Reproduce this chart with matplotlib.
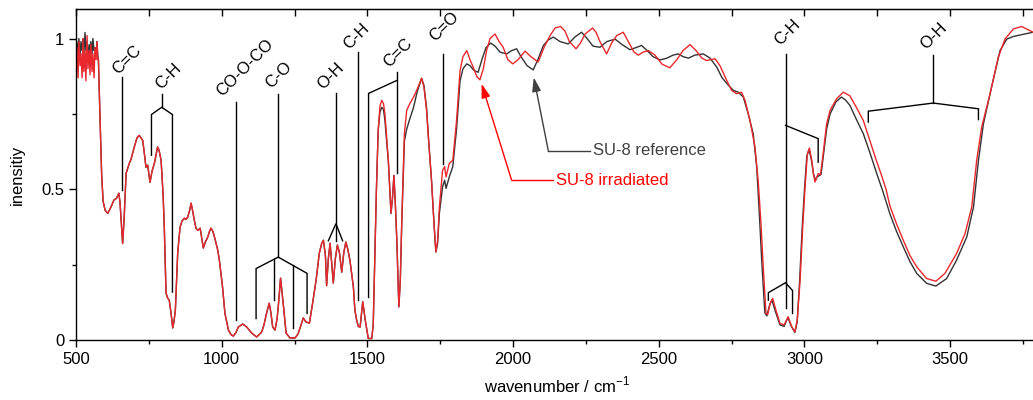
import numpy as np
import matplotlib
matplotlib.use("Agg")
import matplotlib.pyplot as plt
from matplotlib.ticker import MultipleLocator, FuncFormatter

plt.rcParams['font.family'] = ['Liberation Sans', 'DejaVu Sans']
plt.rcParams['font.size'] = 12

# --- SU-8 reference (dark line) ---
ref_wn = [500, 503, 507, 510, 514, 517, 521, 524, 527, 531, 534, 538, 541, 545, 548, 551, 555, 558, 562, 565,
          569, 572, 575, 577, 582, 588, 593, 600, 609, 617, 624, 630, 639, 647, 651, 656, 660, 665, 672, 683,
          689, 700, 709, 717, 729, 737, 740, 746, 754, 761, 769, 780, 785, 792, 799, 803, 809, 814, 820, 826,
          832, 836, 841, 849, 857, 864, 872, 877, 883, 890, 895, 900, 906, 912, 918, 926, 931, 937, 944, 952,
          958, 963, 970, 978, 986, 992, 1003, 1011, 1023, 1032, 1040, 1049, 1057, 1072, 1086, 1103, 1120, 1137, 1145, 1154,
          1163, 1169, 1175, 1183, 1190, 1194, 1202, 1211, 1221, 1234, 1252, 1262, 1269, 1280, 1289, 1301, 1312, 1324, 1335, 1343,
          1349, 1356, 1360, 1366, 1372, 1377, 1383, 1390, 1397, 1404, 1412, 1419, 1426, 1433, 1440, 1452, 1457, 1463, 1469, 1475,
          1480, 1484, 1488, 1492, 1498, 1503, 1515, 1520, 1526, 1531, 1537,
          1543, 1549, 1555, 1560, 1572, 1581, 1586, 1591, 1596, 1601, 1608, 1613, 1618, 1627, 1635, 1646, 1658, 1670, 1686, 1694,
          1703, 1711, 1720, 1729, 1735, 1741, 1747, 1758, 1765, 1770, 1781, 1793, 1806, 1818, 1828, 1841, 1852, 1865, 1880, 1893,
          1907, 1923, 1938, 1955, 1978, 1995, 2012, 2027, 2048, 2069, 2085, 2104, 2120, 2138, 2161, 2178, 2189, 2212, 2235, 2254,
          2274, 2298, 2322, 2350, 2374, 2401, 2422, 2441, 2460, 2480, 2504, 2528, 2549, 2567, 2583, 2602, 2624, 2653, 2676, 2699,
          2717, 2739, 2756, 2773, 2790, 2807, 2824, 2836, 2845, 2854, 2864, 2871, 2880, 2888, 2900, 2916, 2930, 2943, 2955, 2967,
          2975, 2983, 2992, 3000, 3008, 3016, 3024, 3031, 3038, 3043, 3050, 3057, 3064, 3076, 3088, 3108, 3127, 3142, 3156, 3179,
          3202, 3225, 3248, 3270, 3293, 3316, 3339, 3362, 3385, 3419, 3451, 3488, 3522, 3557, 3580, 3597, 3614, 3642, 3671, 3694,
          3717, 3784, 3808]
ref_int = [0.96, 0.99, 0.95, 1.0, 0.94, 0.99, 0.96, 1.0, 0.95, 1.02, 0.96, 0.99, 0.94, 0.98, 0.95, 0.99, 0.95, 1.0, 0.96, 0.97,
           0.95, 0.99, 0.94, 0.93, 0.75, 0.55, 0.46, 0.43, 0.42, 0.435, 0.45, 0.464, 0.47, 0.487, 0.457, 0.38, 0.32, 0.40, 0.553, 0.586,
           0.60, 0.64, 0.67, 0.679, 0.662, 0.60, 0.573, 0.58, 0.523, 0.56, 0.586, 0.64, 0.63, 0.596, 0.48, 0.374, 0.156, 0.14, 0.132, 0.09,
           0.04, 0.06, 0.099, 0.288, 0.374, 0.395, 0.404, 0.40, 0.407, 0.43, 0.454, 0.43, 0.397, 0.37, 0.364, 0.371, 0.34, 0.305, 0.325, 0.341,
           0.36, 0.371, 0.36, 0.331, 0.30, 0.265, 0.175, 0.089, 0.033, 0.018, 0.013, 0.025, 0.043, 0.053, 0.043, 0.023, 0.010, 0.026, 0.05, 0.089,
           0.122, 0.09, 0.043, 0.033, 0.07, 0.109, 0.205, 0.122, 0.023, 0.007, 0.007, 0.02, 0.04, 0.073, 0.06, 0.056, 0.122, 0.199, 0.288, 0.32,
           0.331, 0.28, 0.18, 0.27, 0.321, 0.26, 0.189, 0.27, 0.315, 0.29, 0.225, 0.29, 0.325, 0.30, 0.265, 0.175, 0.10, 0.066, 0.045, 0.043,
           0.09, 0.127, 0.10, 0.07, 0.035, 0.005, 0.005, 0.05, 0.288, 0.5, 0.695,
           0.755, 0.772, 0.765, 0.73, 0.59, 0.42, 0.47, 0.546, 0.45, 0.33, 0.11, 0.2, 0.39, 0.66, 0.70, 0.735, 0.77, 0.82, 0.868, 0.845,
           0.77, 0.65, 0.53, 0.38, 0.292, 0.32, 0.42, 0.508, 0.53, 0.503, 0.541, 0.575, 0.70, 0.86, 0.90, 0.916, 0.91, 0.895, 0.888, 0.93,
           0.97, 0.985, 0.975, 0.955, 0.949, 0.96, 0.966, 0.94, 0.91, 0.896, 0.93, 0.977, 0.995, 1.005, 0.99, 0.985, 0.982, 1.005, 1.021, 1.0,
           0.975, 0.971, 0.99, 0.998, 0.98, 0.963, 0.97, 0.977, 0.96, 0.94, 0.929, 0.935, 0.945, 0.949, 0.94, 0.935, 0.945, 0.949, 0.935, 0.905,
           0.87, 0.845, 0.828, 0.822, 0.806, 0.75, 0.684, 0.574, 0.42, 0.25, 0.09, 0.08, 0.115, 0.133, 0.095, 0.05, 0.045, 0.075, 0.045, 0.025,
           0.06, 0.19, 0.37, 0.50, 0.61, 0.632, 0.595, 0.55, 0.53, 0.541, 0.545, 0.55, 0.605, 0.70, 0.75, 0.79, 0.806, 0.795, 0.778, 0.73,
           0.684, 0.62, 0.552, 0.49, 0.419, 0.36, 0.309, 0.26, 0.221, 0.188, 0.179, 0.204, 0.265, 0.342, 0.441, 0.596, 0.717, 0.839, 0.96, 0.998,
           1.007, 1.021, 1.025]

# --- SU-8 irradiated (red line) ---
irr_wn = [500, 503, 507, 510, 514, 517, 521, 524, 527, 531, 534, 538, 541, 545, 548, 551, 555, 558, 562, 565,
          569, 572, 575, 577, 582, 588, 593, 600, 609, 617, 624, 630, 639, 647, 651, 656, 660, 665, 672, 683,
          689, 700, 709, 717, 729, 737, 740, 746, 754, 761, 769, 780, 785, 792, 799, 803, 809, 814, 820, 826,
          832, 836, 841, 849, 857, 864, 872, 877, 883, 890, 895, 900, 906, 912, 918, 926, 931, 937, 944, 952,
          958, 963, 970, 978, 986, 992, 1003, 1011, 1023, 1032, 1040, 1049, 1057, 1072, 1086, 1103, 1120, 1137, 1145, 1154,
          1163, 1169, 1175, 1183, 1190, 1194, 1202, 1211, 1221, 1234, 1252, 1262, 1269, 1280, 1289, 1301, 1312, 1324, 1335, 1343,
          1349, 1356, 1360, 1366, 1372, 1377, 1383, 1390, 1397, 1404, 1412, 1419, 1426, 1433, 1440, 1452, 1457, 1463, 1469, 1475,
          1480, 1484, 1488, 1492, 1498, 1503, 1515, 1520, 1526, 1531, 1537,
          1543, 1549, 1555, 1560, 1572, 1581, 1586, 1591, 1596, 1601, 1608, 1613, 1618, 1627, 1635, 1646, 1658, 1670, 1686, 1694,
          1703, 1711, 1720, 1729, 1735, 1741, 1747, 1758, 1765, 1770, 1781, 1793, 1806, 1818, 1828, 1841, 1852, 1863, 1875, 1886,
          1898, 1909, 1921, 1938, 1952, 1966, 1982, 1999, 2017, 2041, 2061, 2086, 2106, 2127, 2144, 2163, 2178, 2193, 2216, 2231,
          2247, 2273, 2285, 2298, 2321, 2338, 2356, 2378, 2401, 2415, 2430, 2446, 2465, 2487, 2511, 2538, 2562, 2583, 2607, 2628,
          2648, 2664, 2679, 2693, 2710, 2733, 2750, 2767, 2784, 2796, 2813, 2830, 2841, 2850, 2859, 2868, 2874, 2882, 2891, 2902,
          2916, 2930, 2944, 2956, 2967, 2975, 2985, 2994, 3002, 3010, 3017, 3025, 3031, 3036, 3047, 3055, 3064, 3076, 3088, 3110,
          3133, 3156, 3179, 3202, 3225, 3245, 3263, 3280, 3293, 3316, 3339, 3362, 3385, 3419, 3451, 3482, 3522, 3551, 3574, 3591,
          3608, 3637, 3665, 3688, 3717, 3745, 3784, 3808]
irr_int = [0.90, 0.97, 0.87, 0.99, 0.91, 0.95, 0.87, 1.0, 0.89, 0.96, 0.86, 1.01, 0.90, 0.96, 0.88, 0.98, 0.89, 0.95, 0.87, 0.97,
           0.93, 0.99, 0.93, 0.93, 0.75, 0.55, 0.46, 0.43, 0.42, 0.435, 0.45, 0.464, 0.47, 0.487, 0.457, 0.38, 0.32, 0.40, 0.553, 0.586,
           0.60, 0.64, 0.67, 0.679, 0.662, 0.60, 0.573, 0.58, 0.523, 0.56, 0.586, 0.64, 0.63, 0.596, 0.48, 0.374, 0.156, 0.14, 0.132, 0.09,
           0.04, 0.06, 0.099, 0.288, 0.374, 0.395, 0.404, 0.40, 0.407, 0.43, 0.454, 0.43, 0.397, 0.37, 0.364, 0.371, 0.34, 0.305, 0.325, 0.341,
           0.36, 0.371, 0.36, 0.331, 0.30, 0.265, 0.175, 0.089, 0.033, 0.018, 0.013, 0.025, 0.043, 0.053, 0.043, 0.023, 0.010, 0.026, 0.05, 0.089,
           0.122, 0.09, 0.043, 0.033, 0.07, 0.109, 0.205, 0.122, 0.023, 0.007, 0.007, 0.02, 0.04, 0.073, 0.06, 0.056, 0.122, 0.199, 0.288, 0.32,
           0.331, 0.28, 0.18, 0.27, 0.321, 0.26, 0.189, 0.27, 0.315, 0.29, 0.225, 0.29, 0.325, 0.30, 0.265, 0.175, 0.10, 0.066, 0.045, 0.043,
           0.09, 0.127, 0.10, 0.07, 0.035, 0.005, 0.005, 0.05, 0.288, 0.5, 0.695,
           0.775, 0.795, 0.785, 0.752, 0.596, 0.42, 0.47, 0.546, 0.45, 0.33, 0.11, 0.2, 0.397, 0.685, 0.762, 0.785, 0.805, 0.83, 0.868, 0.84,
           0.762, 0.65, 0.53, 0.38, 0.292, 0.33, 0.44, 0.563, 0.575, 0.541, 0.586, 0.596, 0.728, 0.894, 0.94, 0.96, 0.93, 0.905, 0.875, 0.863,
           0.90, 0.96, 1.0, 1.015, 0.99, 0.971, 0.93, 0.916, 0.93, 0.958, 0.94, 0.922, 0.97, 1.01, 1.035, 1.04, 1.025, 0.99, 0.966, 0.985,
           1.015, 1.035, 1.02, 0.99, 0.949, 0.985, 1.01, 1.021, 0.98, 0.955, 0.945, 0.955, 0.96, 0.945, 0.915, 0.903, 0.93, 0.96, 0.98, 0.96,
           0.935, 0.927, 0.93, 0.933, 0.91, 0.861, 0.828, 0.817, 0.822, 0.795, 0.728, 0.64, 0.53, 0.397, 0.232, 0.088, 0.085, 0.121, 0.138, 0.099,
           0.055, 0.05, 0.077, 0.045, 0.027, 0.066, 0.199, 0.375, 0.508, 0.618, 0.637, 0.596, 0.55, 0.524, 0.552, 0.548, 0.618, 0.717, 0.762, 0.80,
           0.822, 0.81, 0.77, 0.728, 0.66, 0.60, 0.55, 0.50, 0.445, 0.385, 0.331, 0.28, 0.243, 0.204, 0.195, 0.221, 0.287, 0.353, 0.441, 0.596,
           0.706, 0.817, 0.938, 0.998, 1.032, 1.040, 1.021, 1.02]

# band labels: (text, x of text centre, y of text bottom)
band_labels = [("C=C", 675, 0.871), ("C-H", 817, 0.821), ("CO-O-CO", 1080, 0.798), ("C-O", 1197, 0.825),
               ("O-H", 1373, 0.821), ("C-H", 1461, 0.954), ("C=C", 1605, 0.894), ("C=O", 1763, 0.983),
               ("C-H", 2942, 0.967), ("O-H", 3444, 0.954)]

# assignment lines (polylines in data coords)
band_lines = [
    [(657, 0.874), (657, 0.497)],
    [(794, 0.815), (794, 0.772)],
    [(759, 0.613), (759, 0.748), (794, 0.772), (831, 0.748), (831, 0.159)],
    [(1048, 0.789), (1048, 0.066)],
    [(1194, 0.817), (1194, 0.275)],
    [(1118, 0.071), (1118, 0.237), (1194, 0.275), (1293, 0.221), (1293, 0.088)],
    [(1179.5, 0.268), (1179.5, 0.132)],
    [(1243, 0.248), (1243, 0.039)],
    [(1392, 0.818), (1392, 0.329)],
    [(1366, 0.329), (1392, 0.386), (1415, 0.329)],
    [(1469, 0.955), (1469, 0.132)],
    [(1601, 0.888), (1601, 0.554)],
    [(1601, 0.861), (1504, 0.818), (1504, 0.141)],
    [(1760, 0.949), (1760, 0.585)],
    [(2935, 0.949), (2935, 0.105)],
    [(2935, 0.712), (3047, 0.668), (3047, 0.590)],
    [(2876, 0.132), (2876, 0.157), (2935, 0.190), (2959, 0.164), (2959, 0.088)],
    [(3442, 0.944), (3442, 0.786)],
    [(3219, 0.723), (3219, 0.759), (3442, 0.786), (3597, 0.767), (3597, 0.731)],
]

ref_color = "#333333"
irr_color = "#e8282d"

fig = plt.figure(figsize=(10.33, 4.0), dpi=100)
ax = fig.add_axes([76 / 1033, 60 / 400, 961.6 / 1033, 331 / 400])

ax.plot(ref_wn, ref_int, color=ref_color, lw=1.0)
ax.plot(irr_wn, irr_int, color=irr_color, lw=1.0)

for pts in band_lines:
    xs, ys = zip(*pts)
    ax.plot(xs, ys, color="black", lw=1.0, solid_joinstyle="miter")

for txt, x, y in band_labels:
    ax.text(x, y, txt, rotation=45, ha="center", va="bottom", fontsize=12)

# series labels with elbow arrows
ax.plot([2264, 2121], [0.627, 0.627], color="#404040", lw=1.0)
ax.annotate("", xy=(2071, 0.871), xytext=(2121, 0.627),
            arrowprops=dict(arrowstyle="-|>,head_length=0.7,head_width=0.22", color="#404040", lw=1.0,
                            shrinkA=0, shrinkB=0))
ax.text(2274, 0.627, "SU-8 reference", color="#404040", ha="left", va="center", fontsize=12)

ax.plot([2138, 1995], [0.530, 0.530], color="red", lw=1.0)
ax.annotate("", xy=(1892, 0.85), xytext=(1995, 0.530),
            arrowprops=dict(arrowstyle="-|>,head_length=0.7,head_width=0.22", color="red", lw=1.0,
                            shrinkA=0, shrinkB=0))
ax.text(2147, 0.530, "SU-8 irradiated", color="red", ha="left", va="center", fontsize=12)

ax.set_xlim(500, 3800)
ax.set_ylim(0, 1.098)
ax.xaxis.set_major_locator(MultipleLocator(500))
ax.xaxis.set_minor_locator(MultipleLocator(250))
ax.yaxis.set_major_locator(MultipleLocator(0.5))
ax.yaxis.set_minor_locator(MultipleLocator(0.25))
ax.yaxis.set_major_formatter(FuncFormatter(lambda v, p: f"{v:g}"))
ax.tick_params(which="both", direction="out", width=1.0, labelsize=12)
ax.tick_params(which="major", length=5)
ax.tick_params(which="minor", length=3)
for s in ax.spines.values():
    s.set_linewidth(1.0)

# top axis: ticks pointing inwards, no labels
top = ax.secondary_xaxis("top")
top.xaxis.set_major_locator(MultipleLocator(250))
top.tick_params(direction="in", length=5, width=1.0, labeltop=False)

ax.set_xlabel("wavenumber / cm$^{\\mathregular{-1}}$", fontsize=12, labelpad=6)
ax.set_ylabel("inensitiy", fontsize=12, labelpad=12)

fig.savefig("out.png", dpi=100)
